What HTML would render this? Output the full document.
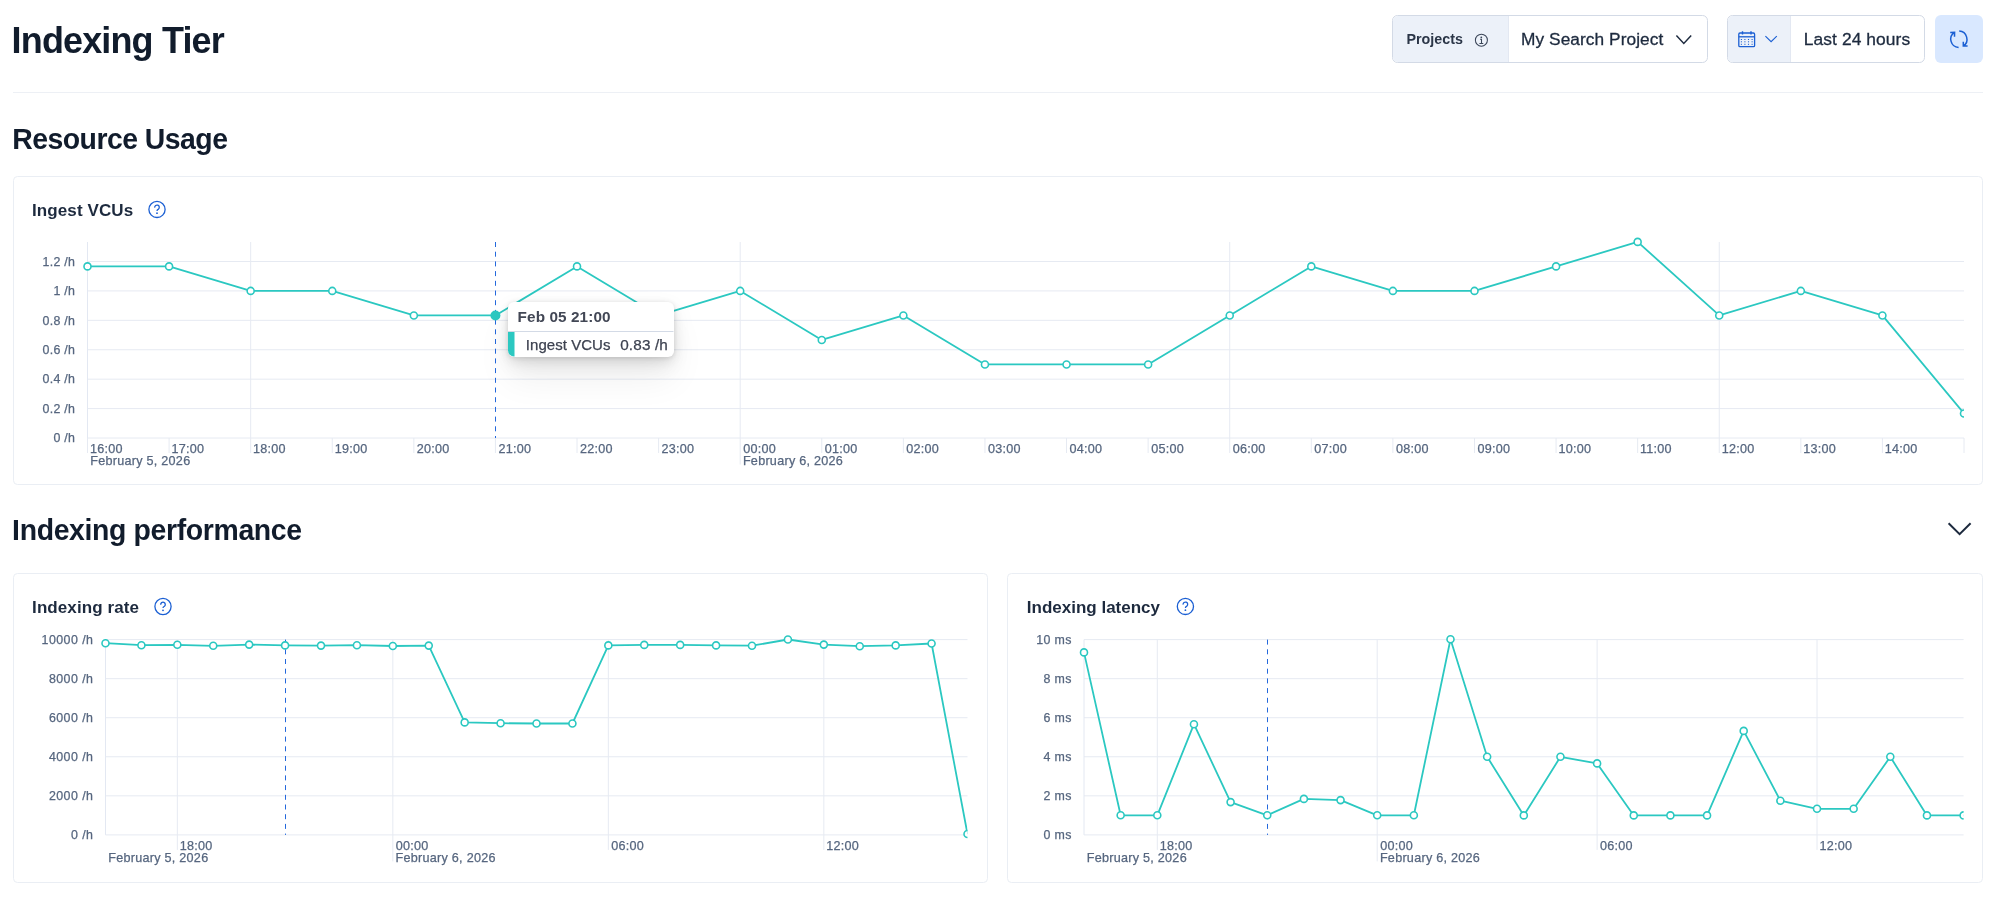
<!DOCTYPE html><html><head><meta charset="utf-8"><style>html,body{margin:0;padding:0;background:#fff;overflow:hidden;width:1999px;height:898px;position:relative}svg{display:block;will-change:transform}</style></head><body>
<svg width="1999" height="898" viewBox="0 0 1999 898" font-family='"Liberation Sans", sans-serif'>
<rect width="1999" height="898" fill="#fff"/>
<text transform="translate(11.6 52.6) scale(1 1.03)" font-size="36" font-weight="700" fill="#111C2C" text-anchor="start" letter-spacing="-0.85">Indexing Tier</text>
<rect x="13" y="92" width="1970" height="1" fill="#EDF0F5"/>
<rect x="1392.5" y="15.5" width="315" height="47" rx="5" fill="#fff" stroke="#D3DAE6"/>
<path d="M1397.5 16 H1508.5 V62 H1397.5 A5 5 0 0 1 1393 57.5 V20.5 A5 5 0 0 1 1397.5 16 Z" fill="#ECF1F9"/>
<line x1="1508.5" y1="16" x2="1508.5" y2="62" stroke="#E3E8F2"/>
<text x="1406.5" y="44.4" font-size="14.3" font-weight="700" fill="#2B3648" text-anchor="start">Projects</text>
<circle cx="1481.4" cy="40.2" r="6" fill="none" stroke="#3A4558" stroke-width="1.05"/>
<circle cx="1481.3" cy="37.3" r="0.9" fill="#3A4558"/>
<path d="M1480.1 39.3 H1481.5 V43.4 M1479.4 43.5 H1483.3" fill="none" stroke="#3A4558" stroke-width="1.05"/>
<text x="1521.0" y="45" font-size="17.3" font-weight="400" fill="#1D2A3E" text-anchor="start" letter-spacing="0.07" stroke="#1D2A3E" stroke-width="0.3">My Search Project</text>
<path d="M1676.4 35.6 L1683.8 43.4 L1691.2 35.6" fill="none" stroke="#1D2A3E" stroke-width="1.5"/>
<rect x="1727.5" y="15.5" width="197" height="47" rx="5" fill="#fff" stroke="#D3DAE6"/>
<path d="M1732.5 16 H1790 V62 H1732.5 A5 5 0 0 1 1728 57.5 V20.5 A5 5 0 0 1 1732.5 16 Z" fill="#ECF1F9"/>
<line x1="1790.5" y1="16" x2="1790.5" y2="62" stroke="#E3E8F2"/>
<rect x="1738.8" y="33" width="15.8" height="13.6" rx="1.2" fill="none" stroke="#1B5FD3" stroke-width="1.3"/>
<line x1="1738.8" y1="36.8" x2="1754.6" y2="36.8" stroke="#1B5FD3" stroke-width="1.3"/>
<path d="M1742.5 31.2 V34.6 M1751 31.2 V34.6" stroke="#1B5FD3" stroke-width="1.4"/>
<rect x="1740.8500000000001" y="39.0" width="1.1" height="1" fill="#1B5FD3"/>
<rect x="1740.8500000000001" y="41.3" width="1.1" height="1" fill="#1B5FD3"/>
<rect x="1740.8500000000001" y="43.8" width="1.1" height="1" fill="#1B5FD3"/>
<rect x="1744.3500000000001" y="39.0" width="1.1" height="1" fill="#1B5FD3"/>
<rect x="1744.3500000000001" y="41.3" width="1.1" height="1" fill="#1B5FD3"/>
<rect x="1744.3500000000001" y="43.8" width="1.1" height="1" fill="#1B5FD3"/>
<rect x="1747.95" y="39.0" width="1.1" height="1" fill="#1B5FD3"/>
<rect x="1747.95" y="41.3" width="1.1" height="1" fill="#1B5FD3"/>
<rect x="1747.95" y="43.8" width="1.1" height="1" fill="#1B5FD3"/>
<rect x="1751.55" y="39.0" width="1.1" height="1" fill="#1B5FD3"/>
<rect x="1751.55" y="41.3" width="1.1" height="1" fill="#1B5FD3"/>
<rect x="1751.55" y="43.8" width="1.1" height="1" fill="#1B5FD3"/>
<path d="M1765.4 36.2 L1771.1 41.6 L1776.8 36.2" fill="none" stroke="#1B5FD3" stroke-width="1.15"/>
<text x="1803.8" y="45" font-size="17.4" font-weight="400" fill="#1D2A3E" text-anchor="start" letter-spacing="0.08" stroke="#1D2A3E" stroke-width="0.3">Last 24 hours</text>
<rect x="1935" y="15" width="48" height="48" rx="6" fill="#D9E8FF"/>
<path d="M1958.6 47.4 A8.2 8.2 0 0 1 1954.4 32.4 M1950.2 32.5 L1954.6 32.3 L1954.5 36.7 M1959.2 31.1 A8.2 8.2 0 0 1 1963.3 46.1 M1963.3 41.8 L1963.3 46.1 L1967.6 46.1" fill="none" stroke="#1B5FD3" stroke-width="1.5"/>
<text transform="translate(12.2 149.2) scale(1 1.04)" font-size="28.4" font-weight="700" fill="#111C2C" text-anchor="start" letter-spacing="-0.52">Resource Usage</text>
<rect x="13.5" y="176.5" width="1969" height="308" rx="4" fill="#fff" stroke="#EAEEF4"/>
<text x="32.0" y="215.6" font-size="17" font-weight="700" fill="#1D2A3E" text-anchor="start" letter-spacing="0.1">Ingest VCUs</text>
<circle cx="157" cy="209.4" r="8.1" fill="none" stroke="#1B5FD3" stroke-width="1.3"/>
<path d="M154.70 207.60 A2.3 2.3 0 1 1 158.50 209.10 Q157.00 209.90 157.00 210.90" fill="none" stroke="#1B5FD3" stroke-width="1.3"/>
<circle cx="157.00" cy="213.20" r="0.9" fill="#1B5FD3"/>
<line x1="87.5" y1="438.00" x2="1964.0" y2="438.00" stroke="#E6EAF2" stroke-width="1"/>
<text x="75.3" y="442.3" font-size="12.4" font-weight="400" fill="#56667F" text-anchor="end" letter-spacing="0.3" stroke="#56667F" stroke-width="0.25">0 /h</text>
<line x1="87.5" y1="408.58" x2="1964.0" y2="408.58" stroke="#E6EAF2" stroke-width="1"/>
<text x="75.3" y="412.884" font-size="12.4" font-weight="400" fill="#56667F" text-anchor="end" letter-spacing="0.3" stroke="#56667F" stroke-width="0.25">0.2 /h</text>
<line x1="87.5" y1="379.17" x2="1964.0" y2="379.17" stroke="#E6EAF2" stroke-width="1"/>
<text x="75.3" y="383.468" font-size="12.4" font-weight="400" fill="#56667F" text-anchor="end" letter-spacing="0.3" stroke="#56667F" stroke-width="0.25">0.4 /h</text>
<line x1="87.5" y1="349.75" x2="1964.0" y2="349.75" stroke="#E6EAF2" stroke-width="1"/>
<text x="75.3" y="354.052" font-size="12.4" font-weight="400" fill="#56667F" text-anchor="end" letter-spacing="0.3" stroke="#56667F" stroke-width="0.25">0.6 /h</text>
<line x1="87.5" y1="320.34" x2="1964.0" y2="320.34" stroke="#E6EAF2" stroke-width="1"/>
<text x="75.3" y="324.636" font-size="12.4" font-weight="400" fill="#56667F" text-anchor="end" letter-spacing="0.3" stroke="#56667F" stroke-width="0.25">0.8 /h</text>
<line x1="87.5" y1="290.92" x2="1964.0" y2="290.92" stroke="#E6EAF2" stroke-width="1"/>
<text x="75.3" y="295.21999999999997" font-size="12.4" font-weight="400" fill="#56667F" text-anchor="end" letter-spacing="0.3" stroke="#56667F" stroke-width="0.25">1 /h</text>
<line x1="87.5" y1="261.50" x2="1964.0" y2="261.50" stroke="#E6EAF2" stroke-width="1"/>
<text x="75.3" y="265.80400000000003" font-size="12.4" font-weight="400" fill="#56667F" text-anchor="end" letter-spacing="0.3" stroke="#56667F" stroke-width="0.25">1.2 /h</text>
<line x1="250.67" y1="242" x2="250.67" y2="438.0" stroke="#E6EAF2" stroke-width="1"/>
<line x1="740.20" y1="242" x2="740.20" y2="438.0" stroke="#E6EAF2" stroke-width="1"/>
<line x1="1229.72" y1="242" x2="1229.72" y2="438.0" stroke="#E6EAF2" stroke-width="1"/>
<line x1="1719.24" y1="242" x2="1719.24" y2="438.0" stroke="#E6EAF2" stroke-width="1"/>
<line x1="87.5" y1="242" x2="87.5" y2="438.0" stroke="#E3E8F2" stroke-width="1"/>
<line x1="87.50" y1="438.0" x2="87.50" y2="453.0" stroke="#E6EAF2" stroke-width="1"/>
<line x1="169.09" y1="438.0" x2="169.09" y2="453.0" stroke="#E6EAF2" stroke-width="1"/>
<line x1="250.67" y1="438.0" x2="250.67" y2="453.0" stroke="#E6EAF2" stroke-width="1"/>
<line x1="332.26" y1="438.0" x2="332.26" y2="453.0" stroke="#E6EAF2" stroke-width="1"/>
<line x1="413.85" y1="438.0" x2="413.85" y2="453.0" stroke="#E6EAF2" stroke-width="1"/>
<line x1="495.43" y1="438.0" x2="495.43" y2="453.0" stroke="#E6EAF2" stroke-width="1"/>
<line x1="577.02" y1="438.0" x2="577.02" y2="453.0" stroke="#E6EAF2" stroke-width="1"/>
<line x1="658.61" y1="438.0" x2="658.61" y2="453.0" stroke="#E6EAF2" stroke-width="1"/>
<line x1="740.20" y1="438.0" x2="740.20" y2="464.5" stroke="#E6EAF2" stroke-width="1"/>
<line x1="821.78" y1="438.0" x2="821.78" y2="453.0" stroke="#E6EAF2" stroke-width="1"/>
<line x1="903.37" y1="438.0" x2="903.37" y2="453.0" stroke="#E6EAF2" stroke-width="1"/>
<line x1="984.96" y1="438.0" x2="984.96" y2="453.0" stroke="#E6EAF2" stroke-width="1"/>
<line x1="1066.54" y1="438.0" x2="1066.54" y2="453.0" stroke="#E6EAF2" stroke-width="1"/>
<line x1="1148.13" y1="438.0" x2="1148.13" y2="453.0" stroke="#E6EAF2" stroke-width="1"/>
<line x1="1229.72" y1="438.0" x2="1229.72" y2="453.0" stroke="#E6EAF2" stroke-width="1"/>
<line x1="1311.30" y1="438.0" x2="1311.30" y2="453.0" stroke="#E6EAF2" stroke-width="1"/>
<line x1="1392.89" y1="438.0" x2="1392.89" y2="453.0" stroke="#E6EAF2" stroke-width="1"/>
<line x1="1474.48" y1="438.0" x2="1474.48" y2="453.0" stroke="#E6EAF2" stroke-width="1"/>
<line x1="1556.07" y1="438.0" x2="1556.07" y2="453.0" stroke="#E6EAF2" stroke-width="1"/>
<line x1="1637.65" y1="438.0" x2="1637.65" y2="453.0" stroke="#E6EAF2" stroke-width="1"/>
<line x1="1719.24" y1="438.0" x2="1719.24" y2="453.0" stroke="#E6EAF2" stroke-width="1"/>
<line x1="1800.83" y1="438.0" x2="1800.83" y2="453.0" stroke="#E6EAF2" stroke-width="1"/>
<line x1="1882.41" y1="438.0" x2="1882.41" y2="453.0" stroke="#E6EAF2" stroke-width="1"/>
<line x1="1964.00" y1="438.0" x2="1964.00" y2="453.0" stroke="#E6EAF2" stroke-width="1"/>
<text x="89.90" y="452.9" font-size="12.6" font-weight="400" fill="#56667F" text-anchor="start" letter-spacing="0.25" stroke="#56667F" stroke-width="0.25">16:00</text>
<text x="171.49" y="452.9" font-size="12.6" font-weight="400" fill="#56667F" text-anchor="start" letter-spacing="0.25" stroke="#56667F" stroke-width="0.25">17:00</text>
<text x="253.07" y="452.9" font-size="12.6" font-weight="400" fill="#56667F" text-anchor="start" letter-spacing="0.25" stroke="#56667F" stroke-width="0.25">18:00</text>
<text x="334.66" y="452.9" font-size="12.6" font-weight="400" fill="#56667F" text-anchor="start" letter-spacing="0.25" stroke="#56667F" stroke-width="0.25">19:00</text>
<text x="416.85" y="452.9" font-size="12.6" font-weight="400" fill="#56667F" text-anchor="start" letter-spacing="0.25" stroke="#56667F" stroke-width="0.25">20:00</text>
<text x="498.43" y="452.9" font-size="12.6" font-weight="400" fill="#56667F" text-anchor="start" letter-spacing="0.25" stroke="#56667F" stroke-width="0.25">21:00</text>
<text x="580.02" y="452.9" font-size="12.6" font-weight="400" fill="#56667F" text-anchor="start" letter-spacing="0.25" stroke="#56667F" stroke-width="0.25">22:00</text>
<text x="661.61" y="452.9" font-size="12.6" font-weight="400" fill="#56667F" text-anchor="start" letter-spacing="0.25" stroke="#56667F" stroke-width="0.25">23:00</text>
<text x="743.20" y="452.9" font-size="12.6" font-weight="400" fill="#56667F" text-anchor="start" letter-spacing="0.25" stroke="#56667F" stroke-width="0.25">00:00</text>
<text x="824.78" y="452.9" font-size="12.6" font-weight="400" fill="#56667F" text-anchor="start" letter-spacing="0.25" stroke="#56667F" stroke-width="0.25">01:00</text>
<text x="906.37" y="452.9" font-size="12.6" font-weight="400" fill="#56667F" text-anchor="start" letter-spacing="0.25" stroke="#56667F" stroke-width="0.25">02:00</text>
<text x="987.96" y="452.9" font-size="12.6" font-weight="400" fill="#56667F" text-anchor="start" letter-spacing="0.25" stroke="#56667F" stroke-width="0.25">03:00</text>
<text x="1069.54" y="452.9" font-size="12.6" font-weight="400" fill="#56667F" text-anchor="start" letter-spacing="0.25" stroke="#56667F" stroke-width="0.25">04:00</text>
<text x="1151.13" y="452.9" font-size="12.6" font-weight="400" fill="#56667F" text-anchor="start" letter-spacing="0.25" stroke="#56667F" stroke-width="0.25">05:00</text>
<text x="1232.72" y="452.9" font-size="12.6" font-weight="400" fill="#56667F" text-anchor="start" letter-spacing="0.25" stroke="#56667F" stroke-width="0.25">06:00</text>
<text x="1314.30" y="452.9" font-size="12.6" font-weight="400" fill="#56667F" text-anchor="start" letter-spacing="0.25" stroke="#56667F" stroke-width="0.25">07:00</text>
<text x="1395.89" y="452.9" font-size="12.6" font-weight="400" fill="#56667F" text-anchor="start" letter-spacing="0.25" stroke="#56667F" stroke-width="0.25">08:00</text>
<text x="1477.48" y="452.9" font-size="12.6" font-weight="400" fill="#56667F" text-anchor="start" letter-spacing="0.25" stroke="#56667F" stroke-width="0.25">09:00</text>
<text x="1558.47" y="452.9" font-size="12.6" font-weight="400" fill="#56667F" text-anchor="start" letter-spacing="0.25" stroke="#56667F" stroke-width="0.25">10:00</text>
<text x="1640.05" y="452.9" font-size="12.6" font-weight="400" fill="#56667F" text-anchor="start" letter-spacing="0.25" stroke="#56667F" stroke-width="0.25">11:00</text>
<text x="1721.64" y="452.9" font-size="12.6" font-weight="400" fill="#56667F" text-anchor="start" letter-spacing="0.25" stroke="#56667F" stroke-width="0.25">12:00</text>
<text x="1803.23" y="452.9" font-size="12.6" font-weight="400" fill="#56667F" text-anchor="start" letter-spacing="0.25" stroke="#56667F" stroke-width="0.25">13:00</text>
<text x="1884.81" y="452.9" font-size="12.6" font-weight="400" fill="#56667F" text-anchor="start" letter-spacing="0.25" stroke="#56667F" stroke-width="0.25">14:00</text>
<text x="90.20" y="465.2" font-size="12.6" font-weight="400" fill="#56667F" text-anchor="start" letter-spacing="0.27" stroke="#56667F" stroke-width="0.25">February 5, 2026</text>
<text x="742.90" y="465.2" font-size="12.6" font-weight="400" fill="#56667F" text-anchor="start" letter-spacing="0.27" stroke="#56667F" stroke-width="0.25">February 6, 2026</text>
<line x1="495.5" y1="242" x2="495.5" y2="438.0" stroke="#2468DC" stroke-width="1" stroke-dasharray="5 4.7"/>
<clipPath id="c87"><rect x="81.5" y="234" width="1882.5" height="212.0"/></clipPath>
<g clip-path="url(#c87)">
<polyline points="87.50,266.40 169.09,266.40 250.67,290.92 332.26,290.92 413.85,315.44 495.43,315.44 577.02,266.40 658.61,315.44 740.20,290.92 821.78,339.94 903.37,315.44 984.96,364.46 1066.54,364.46 1148.13,364.46 1229.72,315.44 1311.30,266.40 1392.89,290.92 1474.48,290.92 1556.07,266.40 1637.65,241.90 1719.24,315.44 1800.83,290.92 1882.41,315.44 1964.00,413.48" fill="none" stroke="#2BC8C1" stroke-width="1.8" stroke-linejoin="round"/>
<circle cx="87.50" cy="266.40" r="3.5" fill="#fff" stroke="#2BC8C1" stroke-width="1.6"/>
<circle cx="169.09" cy="266.40" r="3.5" fill="#fff" stroke="#2BC8C1" stroke-width="1.6"/>
<circle cx="250.67" cy="290.92" r="3.5" fill="#fff" stroke="#2BC8C1" stroke-width="1.6"/>
<circle cx="332.26" cy="290.92" r="3.5" fill="#fff" stroke="#2BC8C1" stroke-width="1.6"/>
<circle cx="413.85" cy="315.44" r="3.5" fill="#fff" stroke="#2BC8C1" stroke-width="1.6"/>
<circle cx="577.02" cy="266.40" r="3.5" fill="#fff" stroke="#2BC8C1" stroke-width="1.6"/>
<circle cx="658.61" cy="315.44" r="3.5" fill="#fff" stroke="#2BC8C1" stroke-width="1.6"/>
<circle cx="740.20" cy="290.92" r="3.5" fill="#fff" stroke="#2BC8C1" stroke-width="1.6"/>
<circle cx="821.78" cy="339.94" r="3.5" fill="#fff" stroke="#2BC8C1" stroke-width="1.6"/>
<circle cx="903.37" cy="315.44" r="3.5" fill="#fff" stroke="#2BC8C1" stroke-width="1.6"/>
<circle cx="984.96" cy="364.46" r="3.5" fill="#fff" stroke="#2BC8C1" stroke-width="1.6"/>
<circle cx="1066.54" cy="364.46" r="3.5" fill="#fff" stroke="#2BC8C1" stroke-width="1.6"/>
<circle cx="1148.13" cy="364.46" r="3.5" fill="#fff" stroke="#2BC8C1" stroke-width="1.6"/>
<circle cx="1229.72" cy="315.44" r="3.5" fill="#fff" stroke="#2BC8C1" stroke-width="1.6"/>
<circle cx="1311.30" cy="266.40" r="3.5" fill="#fff" stroke="#2BC8C1" stroke-width="1.6"/>
<circle cx="1392.89" cy="290.92" r="3.5" fill="#fff" stroke="#2BC8C1" stroke-width="1.6"/>
<circle cx="1474.48" cy="290.92" r="3.5" fill="#fff" stroke="#2BC8C1" stroke-width="1.6"/>
<circle cx="1556.07" cy="266.40" r="3.5" fill="#fff" stroke="#2BC8C1" stroke-width="1.6"/>
<circle cx="1637.65" cy="241.90" r="3.5" fill="#fff" stroke="#2BC8C1" stroke-width="1.6"/>
<circle cx="1719.24" cy="315.44" r="3.5" fill="#fff" stroke="#2BC8C1" stroke-width="1.6"/>
<circle cx="1800.83" cy="290.92" r="3.5" fill="#fff" stroke="#2BC8C1" stroke-width="1.6"/>
<circle cx="1882.41" cy="315.44" r="3.5" fill="#fff" stroke="#2BC8C1" stroke-width="1.6"/>
<circle cx="1964.00" cy="413.48" r="3.5" fill="#fff" stroke="#2BC8C1" stroke-width="1.6"/>
<circle cx="495.43" cy="315.44" r="5" fill="#2BC8C1"/>
</g>
<text transform="translate(12.1 539.6) scale(1 1.04)" font-size="28.4" font-weight="700" fill="#111C2C" text-anchor="start" letter-spacing="-0.35">Indexing performance</text>
<path d="M1948.6 523.3 L1959.6 534.1 L1970.6 523.3" fill="none" stroke="#1D2A3E" stroke-width="2"/>
<rect x="13.5" y="573.5" width="974" height="309" rx="4" fill="#fff" stroke="#EAEEF4"/>
<rect x="1007.5" y="573.5" width="975" height="309" rx="4" fill="#fff" stroke="#EAEEF4"/>
<text x="32.1" y="612.5" font-size="17" font-weight="700" fill="#1D2A3E" text-anchor="start" letter-spacing="0.08">Indexing rate</text>
<circle cx="163" cy="606.5" r="8.1" fill="none" stroke="#1B5FD3" stroke-width="1.3"/>
<path d="M160.70 604.70 A2.3 2.3 0 1 1 164.50 606.20 Q163.00 607.00 163.00 608.00" fill="none" stroke="#1B5FD3" stroke-width="1.3"/>
<circle cx="163.00" cy="610.30" r="0.9" fill="#1B5FD3"/>
<text x="1026.8" y="613" font-size="17" font-weight="700" fill="#1D2A3E" text-anchor="start">Indexing latency</text>
<circle cx="1185.4" cy="606.4" r="8.1" fill="none" stroke="#1B5FD3" stroke-width="1.3"/>
<path d="M1183.10 604.60 A2.3 2.3 0 1 1 1186.90 606.10 Q1185.40 606.90 1185.40 607.90" fill="none" stroke="#1B5FD3" stroke-width="1.3"/>
<circle cx="1185.40" cy="610.20" r="0.9" fill="#1B5FD3"/>
<line x1="105.5" y1="834.90" x2="967.5" y2="834.90" stroke="#E6EAF2" stroke-width="1"/>
<text x="93.45" y="839.1999999999999" font-size="12.4" font-weight="400" fill="#56667F" text-anchor="end" letter-spacing="0.45" stroke="#56667F" stroke-width="0.25">0 /h</text>
<line x1="105.5" y1="795.84" x2="967.5" y2="795.84" stroke="#E6EAF2" stroke-width="1"/>
<text x="93.45" y="800.14" font-size="12.4" font-weight="400" fill="#56667F" text-anchor="end" letter-spacing="0.45" stroke="#56667F" stroke-width="0.25">2000 /h</text>
<line x1="105.5" y1="756.78" x2="967.5" y2="756.78" stroke="#E6EAF2" stroke-width="1"/>
<text x="93.45" y="761.0799999999999" font-size="12.4" font-weight="400" fill="#56667F" text-anchor="end" letter-spacing="0.45" stroke="#56667F" stroke-width="0.25">4000 /h</text>
<line x1="105.5" y1="717.72" x2="967.5" y2="717.72" stroke="#E6EAF2" stroke-width="1"/>
<text x="93.45" y="722.02" font-size="12.4" font-weight="400" fill="#56667F" text-anchor="end" letter-spacing="0.45" stroke="#56667F" stroke-width="0.25">6000 /h</text>
<line x1="105.5" y1="678.66" x2="967.5" y2="678.66" stroke="#E6EAF2" stroke-width="1"/>
<text x="93.45" y="682.9599999999999" font-size="12.4" font-weight="400" fill="#56667F" text-anchor="end" letter-spacing="0.45" stroke="#56667F" stroke-width="0.25">8000 /h</text>
<line x1="105.5" y1="639.60" x2="967.5" y2="639.60" stroke="#E6EAF2" stroke-width="1"/>
<text x="93.45" y="643.9" font-size="12.4" font-weight="400" fill="#56667F" text-anchor="end" letter-spacing="0.45" stroke="#56667F" stroke-width="0.25">10000 /h</text>
<line x1="177.33" y1="639.6" x2="177.33" y2="834.9" stroke="#E6EAF2" stroke-width="1"/>
<line x1="392.83" y1="639.6" x2="392.83" y2="834.9" stroke="#E6EAF2" stroke-width="1"/>
<line x1="608.33" y1="639.6" x2="608.33" y2="834.9" stroke="#E6EAF2" stroke-width="1"/>
<line x1="823.83" y1="639.6" x2="823.83" y2="834.9" stroke="#E6EAF2" stroke-width="1"/>
<line x1="105.5" y1="639.6" x2="105.5" y2="834.9" stroke="#E3E8F2" stroke-width="1"/>
<line x1="177.33" y1="834.9" x2="177.33" y2="849.9" stroke="#E6EAF2" stroke-width="1"/>
<line x1="392.83" y1="834.9" x2="392.83" y2="861.4" stroke="#E6EAF2" stroke-width="1"/>
<line x1="608.33" y1="834.9" x2="608.33" y2="849.9" stroke="#E6EAF2" stroke-width="1"/>
<line x1="823.83" y1="834.9" x2="823.83" y2="849.9" stroke="#E6EAF2" stroke-width="1"/>
<text x="179.73" y="849.8" font-size="12.6" font-weight="400" fill="#56667F" text-anchor="start" letter-spacing="0.25" stroke="#56667F" stroke-width="0.25">18:00</text>
<text x="395.83" y="849.8" font-size="12.6" font-weight="400" fill="#56667F" text-anchor="start" letter-spacing="0.25" stroke="#56667F" stroke-width="0.25">00:00</text>
<text x="611.33" y="849.8" font-size="12.6" font-weight="400" fill="#56667F" text-anchor="start" letter-spacing="0.25" stroke="#56667F" stroke-width="0.25">06:00</text>
<text x="826.23" y="849.8" font-size="12.6" font-weight="400" fill="#56667F" text-anchor="start" letter-spacing="0.25" stroke="#56667F" stroke-width="0.25">12:00</text>
<text x="108.20" y="862.1" font-size="12.6" font-weight="400" fill="#56667F" text-anchor="start" letter-spacing="0.27" stroke="#56667F" stroke-width="0.25">February 5, 2026</text>
<text x="395.53" y="862.1" font-size="12.6" font-weight="400" fill="#56667F" text-anchor="start" letter-spacing="0.27" stroke="#56667F" stroke-width="0.25">February 6, 2026</text>
<line x1="285.5" y1="639.6" x2="285.5" y2="834.9" stroke="#2468DC" stroke-width="1" stroke-dasharray="5 4.7"/>
<clipPath id="c105"><rect x="99.5" y="631.6" width="868.0" height="211.29999999999995"/></clipPath>
<g clip-path="url(#c105)">
<polyline points="105.50,643.20 141.42,645.20 177.33,644.80 213.25,645.80 249.17,644.60 285.08,645.40 321.00,645.60 356.92,645.20 392.83,646.00 428.75,645.60 464.67,722.40 500.58,723.20 536.50,723.50 572.42,723.50 608.33,645.40 644.25,644.90 680.17,644.90 716.08,645.40 752.00,645.70 787.92,639.50 823.83,644.60 859.75,646.20 895.67,645.40 931.58,643.50 967.50,834.00" fill="none" stroke="#2BC8C1" stroke-width="1.8" stroke-linejoin="round"/>
<circle cx="105.50" cy="643.20" r="3.5" fill="#fff" stroke="#2BC8C1" stroke-width="1.6"/>
<circle cx="141.42" cy="645.20" r="3.5" fill="#fff" stroke="#2BC8C1" stroke-width="1.6"/>
<circle cx="177.33" cy="644.80" r="3.5" fill="#fff" stroke="#2BC8C1" stroke-width="1.6"/>
<circle cx="213.25" cy="645.80" r="3.5" fill="#fff" stroke="#2BC8C1" stroke-width="1.6"/>
<circle cx="249.17" cy="644.60" r="3.5" fill="#fff" stroke="#2BC8C1" stroke-width="1.6"/>
<circle cx="285.08" cy="645.40" r="3.5" fill="#fff" stroke="#2BC8C1" stroke-width="1.6"/>
<circle cx="321.00" cy="645.60" r="3.5" fill="#fff" stroke="#2BC8C1" stroke-width="1.6"/>
<circle cx="356.92" cy="645.20" r="3.5" fill="#fff" stroke="#2BC8C1" stroke-width="1.6"/>
<circle cx="392.83" cy="646.00" r="3.5" fill="#fff" stroke="#2BC8C1" stroke-width="1.6"/>
<circle cx="428.75" cy="645.60" r="3.5" fill="#fff" stroke="#2BC8C1" stroke-width="1.6"/>
<circle cx="464.67" cy="722.40" r="3.5" fill="#fff" stroke="#2BC8C1" stroke-width="1.6"/>
<circle cx="500.58" cy="723.20" r="3.5" fill="#fff" stroke="#2BC8C1" stroke-width="1.6"/>
<circle cx="536.50" cy="723.50" r="3.5" fill="#fff" stroke="#2BC8C1" stroke-width="1.6"/>
<circle cx="572.42" cy="723.50" r="3.5" fill="#fff" stroke="#2BC8C1" stroke-width="1.6"/>
<circle cx="608.33" cy="645.40" r="3.5" fill="#fff" stroke="#2BC8C1" stroke-width="1.6"/>
<circle cx="644.25" cy="644.90" r="3.5" fill="#fff" stroke="#2BC8C1" stroke-width="1.6"/>
<circle cx="680.17" cy="644.90" r="3.5" fill="#fff" stroke="#2BC8C1" stroke-width="1.6"/>
<circle cx="716.08" cy="645.40" r="3.5" fill="#fff" stroke="#2BC8C1" stroke-width="1.6"/>
<circle cx="752.00" cy="645.70" r="3.5" fill="#fff" stroke="#2BC8C1" stroke-width="1.6"/>
<circle cx="787.92" cy="639.50" r="3.5" fill="#fff" stroke="#2BC8C1" stroke-width="1.6"/>
<circle cx="823.83" cy="644.60" r="3.5" fill="#fff" stroke="#2BC8C1" stroke-width="1.6"/>
<circle cx="859.75" cy="646.20" r="3.5" fill="#fff" stroke="#2BC8C1" stroke-width="1.6"/>
<circle cx="895.67" cy="645.40" r="3.5" fill="#fff" stroke="#2BC8C1" stroke-width="1.6"/>
<circle cx="931.58" cy="643.50" r="3.5" fill="#fff" stroke="#2BC8C1" stroke-width="1.6"/>
<circle cx="967.50" cy="834.00" r="3.5" fill="#fff" stroke="#2BC8C1" stroke-width="1.6"/>
</g>
<line x1="1084" y1="834.90" x2="1963.6" y2="834.90" stroke="#E6EAF2" stroke-width="1"/>
<text x="1071.85" y="839.1999999999999" font-size="12.4" font-weight="400" fill="#56667F" text-anchor="end" letter-spacing="0.35" stroke="#56667F" stroke-width="0.25">0 ms</text>
<line x1="1084" y1="795.84" x2="1963.6" y2="795.84" stroke="#E6EAF2" stroke-width="1"/>
<text x="1071.85" y="800.1399999999999" font-size="12.4" font-weight="400" fill="#56667F" text-anchor="end" letter-spacing="0.35" stroke="#56667F" stroke-width="0.25">2 ms</text>
<line x1="1084" y1="756.78" x2="1963.6" y2="756.78" stroke="#E6EAF2" stroke-width="1"/>
<text x="1071.85" y="761.0799999999999" font-size="12.4" font-weight="400" fill="#56667F" text-anchor="end" letter-spacing="0.35" stroke="#56667F" stroke-width="0.25">4 ms</text>
<line x1="1084" y1="717.72" x2="1963.6" y2="717.72" stroke="#E6EAF2" stroke-width="1"/>
<text x="1071.85" y="722.02" font-size="12.4" font-weight="400" fill="#56667F" text-anchor="end" letter-spacing="0.35" stroke="#56667F" stroke-width="0.25">6 ms</text>
<line x1="1084" y1="678.66" x2="1963.6" y2="678.66" stroke="#E6EAF2" stroke-width="1"/>
<text x="1071.85" y="682.9599999999999" font-size="12.4" font-weight="400" fill="#56667F" text-anchor="end" letter-spacing="0.35" stroke="#56667F" stroke-width="0.25">8 ms</text>
<line x1="1084" y1="639.60" x2="1963.6" y2="639.60" stroke="#E6EAF2" stroke-width="1"/>
<text x="1071.85" y="643.8999999999999" font-size="12.4" font-weight="400" fill="#56667F" text-anchor="end" letter-spacing="0.35" stroke="#56667F" stroke-width="0.25">10 ms</text>
<line x1="1157.30" y1="639.6" x2="1157.30" y2="834.9" stroke="#E6EAF2" stroke-width="1"/>
<line x1="1377.20" y1="639.6" x2="1377.20" y2="834.9" stroke="#E6EAF2" stroke-width="1"/>
<line x1="1597.10" y1="639.6" x2="1597.10" y2="834.9" stroke="#E6EAF2" stroke-width="1"/>
<line x1="1817.00" y1="639.6" x2="1817.00" y2="834.9" stroke="#E6EAF2" stroke-width="1"/>
<line x1="1084" y1="639.6" x2="1084" y2="834.9" stroke="#E3E8F2" stroke-width="1"/>
<line x1="1157.30" y1="834.9" x2="1157.30" y2="849.9" stroke="#E6EAF2" stroke-width="1"/>
<line x1="1377.20" y1="834.9" x2="1377.20" y2="861.4" stroke="#E6EAF2" stroke-width="1"/>
<line x1="1597.10" y1="834.9" x2="1597.10" y2="849.9" stroke="#E6EAF2" stroke-width="1"/>
<line x1="1817.00" y1="834.9" x2="1817.00" y2="849.9" stroke="#E6EAF2" stroke-width="1"/>
<text x="1159.70" y="849.8" font-size="12.6" font-weight="400" fill="#56667F" text-anchor="start" letter-spacing="0.25" stroke="#56667F" stroke-width="0.25">18:00</text>
<text x="1380.20" y="849.8" font-size="12.6" font-weight="400" fill="#56667F" text-anchor="start" letter-spacing="0.25" stroke="#56667F" stroke-width="0.25">00:00</text>
<text x="1600.10" y="849.8" font-size="12.6" font-weight="400" fill="#56667F" text-anchor="start" letter-spacing="0.25" stroke="#56667F" stroke-width="0.25">06:00</text>
<text x="1819.40" y="849.8" font-size="12.6" font-weight="400" fill="#56667F" text-anchor="start" letter-spacing="0.25" stroke="#56667F" stroke-width="0.25">12:00</text>
<text x="1086.70" y="862.1" font-size="12.6" font-weight="400" fill="#56667F" text-anchor="start" letter-spacing="0.27" stroke="#56667F" stroke-width="0.25">February 5, 2026</text>
<text x="1379.90" y="862.1" font-size="12.6" font-weight="400" fill="#56667F" text-anchor="start" letter-spacing="0.27" stroke="#56667F" stroke-width="0.25">February 6, 2026</text>
<line x1="1267.5" y1="639.6" x2="1267.5" y2="834.9" stroke="#2468DC" stroke-width="1" stroke-dasharray="5 4.7"/>
<clipPath id="c1084"><rect x="1078" y="631.6" width="885.5999999999999" height="211.29999999999995"/></clipPath>
<g clip-path="url(#c1084)">
<polyline points="1084.00,652.40 1120.65,815.30 1157.30,815.30 1193.95,724.20 1230.60,802.10 1267.25,815.30 1303.90,798.90 1340.55,800.10 1377.20,815.30 1413.85,815.30 1450.50,639.20 1487.15,756.80 1523.80,815.40 1560.45,756.80 1597.10,763.40 1633.75,815.40 1670.40,815.40 1707.05,815.40 1743.70,730.90 1780.35,800.70 1817.00,808.80 1853.65,808.80 1890.30,756.80 1926.95,815.40 1963.60,815.40" fill="none" stroke="#2BC8C1" stroke-width="1.8" stroke-linejoin="round"/>
<circle cx="1084.00" cy="652.40" r="3.5" fill="#fff" stroke="#2BC8C1" stroke-width="1.6"/>
<circle cx="1120.65" cy="815.30" r="3.5" fill="#fff" stroke="#2BC8C1" stroke-width="1.6"/>
<circle cx="1157.30" cy="815.30" r="3.5" fill="#fff" stroke="#2BC8C1" stroke-width="1.6"/>
<circle cx="1193.95" cy="724.20" r="3.5" fill="#fff" stroke="#2BC8C1" stroke-width="1.6"/>
<circle cx="1230.60" cy="802.10" r="3.5" fill="#fff" stroke="#2BC8C1" stroke-width="1.6"/>
<circle cx="1267.25" cy="815.30" r="3.5" fill="#fff" stroke="#2BC8C1" stroke-width="1.6"/>
<circle cx="1303.90" cy="798.90" r="3.5" fill="#fff" stroke="#2BC8C1" stroke-width="1.6"/>
<circle cx="1340.55" cy="800.10" r="3.5" fill="#fff" stroke="#2BC8C1" stroke-width="1.6"/>
<circle cx="1377.20" cy="815.30" r="3.5" fill="#fff" stroke="#2BC8C1" stroke-width="1.6"/>
<circle cx="1413.85" cy="815.30" r="3.5" fill="#fff" stroke="#2BC8C1" stroke-width="1.6"/>
<circle cx="1450.50" cy="639.20" r="3.5" fill="#fff" stroke="#2BC8C1" stroke-width="1.6"/>
<circle cx="1487.15" cy="756.80" r="3.5" fill="#fff" stroke="#2BC8C1" stroke-width="1.6"/>
<circle cx="1523.80" cy="815.40" r="3.5" fill="#fff" stroke="#2BC8C1" stroke-width="1.6"/>
<circle cx="1560.45" cy="756.80" r="3.5" fill="#fff" stroke="#2BC8C1" stroke-width="1.6"/>
<circle cx="1597.10" cy="763.40" r="3.5" fill="#fff" stroke="#2BC8C1" stroke-width="1.6"/>
<circle cx="1633.75" cy="815.40" r="3.5" fill="#fff" stroke="#2BC8C1" stroke-width="1.6"/>
<circle cx="1670.40" cy="815.40" r="3.5" fill="#fff" stroke="#2BC8C1" stroke-width="1.6"/>
<circle cx="1707.05" cy="815.40" r="3.5" fill="#fff" stroke="#2BC8C1" stroke-width="1.6"/>
<circle cx="1743.70" cy="730.90" r="3.5" fill="#fff" stroke="#2BC8C1" stroke-width="1.6"/>
<circle cx="1780.35" cy="800.70" r="3.5" fill="#fff" stroke="#2BC8C1" stroke-width="1.6"/>
<circle cx="1817.00" cy="808.80" r="3.5" fill="#fff" stroke="#2BC8C1" stroke-width="1.6"/>
<circle cx="1853.65" cy="808.80" r="3.5" fill="#fff" stroke="#2BC8C1" stroke-width="1.6"/>
<circle cx="1890.30" cy="756.80" r="3.5" fill="#fff" stroke="#2BC8C1" stroke-width="1.6"/>
<circle cx="1926.95" cy="815.40" r="3.5" fill="#fff" stroke="#2BC8C1" stroke-width="1.6"/>
<circle cx="1963.60" cy="815.40" r="3.5" fill="#fff" stroke="#2BC8C1" stroke-width="1.6"/>
</g>
</svg>
<div style="position:absolute;left:508px;top:302px;width:165.5px;height:54.5px;border-radius:6px;background:#fff;box-shadow:0 1px 5px rgba(0,0,0,0.12),0 3.6px 13px rgba(0,0,0,0.09),0 8.4px 23px rgba(0,0,0,0.08),0 23px 35px rgba(0,0,0,0.06)"></div>
<svg width="1999" height="898" viewBox="0 0 1999 898" style="position:absolute;left:0;top:0" font-family='"Liberation Sans", sans-serif'>
<line x1="508" y1="331.5" x2="673.5" y2="331.5" stroke="#D3DAE6" stroke-width="1"/>
<path d="M508 332 H514.5 V356.5 H514 A6 6 0 0 1 508 350.5 Z" fill="#2BC8C1"/>
<text x="517.6" y="321.8" font-size="15.3" font-weight="700" fill="#424755" text-anchor="start" letter-spacing="0.1">Feb 05 21:00</text>
<text x="525.8" y="349.6" font-size="15" font-weight="400" fill="#3D4250" text-anchor="start" letter-spacing="0.05" stroke="#3D4250" stroke-width="0.25">Ingest VCUs</text>
<text x="620.2" y="349.6" font-size="15.3" font-weight="400" fill="#3D4250" text-anchor="start" letter-spacing="0.15" stroke="#3D4250" stroke-width="0.25">0.83 /h</text>
</svg></body></html>
